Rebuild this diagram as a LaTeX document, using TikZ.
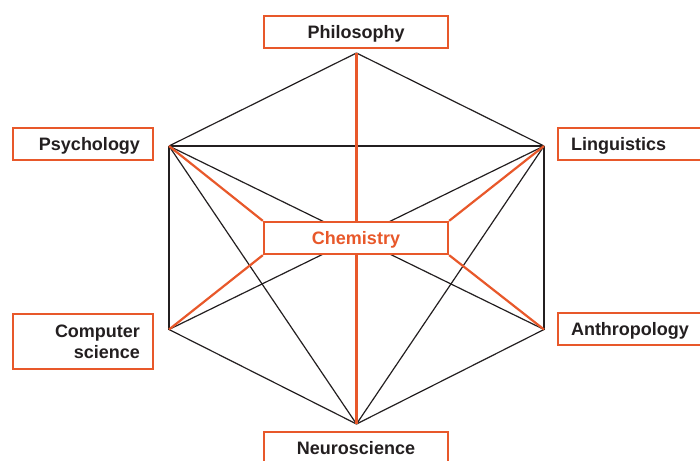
\documentclass[tikz,border=0pt]{standalone}
\usepackage{fontspec}
\setmainfont{Liberation Sans}
\usetikzlibrary{backgrounds}
\definecolor{org}{HTML}{E8582A}
\definecolor{ink}{HTML}{231F20}
\begin{document}
\begin{tikzpicture}[x=1pt,y=-1pt,
  box/.style={draw=org,line width=2.3pt,fill=white,minimum height=32pt,inner ysep=0pt,inner xsep=13pt,
    font=\bfseries\fontsize{18}{21}\selectfont,text=ink},
  one/.style={text height=13pt,text depth=0pt},
  cbox/.style={box,one,minimum width=184pt},
  lbox/.style={box,text width=114pt,align=right},
  rbox/.style={box,one,text width=124pt,align=left},
  blk/.style={draw=ink,line width=1.2pt},
  orl/.style={draw=org,line width=2.2pt}]
\useasboundingbox (0,0) rectangle (700,460);
\clip (0,0) rectangle (700,460);
% vertices
\coordinate (top) at (356.5,53);
\coordinate (bot) at (356.5,424);
\coordinate (ul) at (169,146);
\coordinate (ur) at (544,146);
\coordinate (ll) at (169,329.5);
\coordinate (lr) at (544,329.5);
% nodes
\node[cbox] (phil) at (356,32) {Philosophy};
\node[lbox,one] (psy) at (83,144) {Psychology};
\node[rbox] (ling) at (633,144) {Linguistics};
\node[lbox,minimum height=55pt] (cs) at (83,341.5) {Computer\\science};
\node[rbox] (anth) at (633,329) {Anthropology};
\node[cbox] (neuro) at (356,448) {Neuroscience};
\node[cbox,text=org] (chem) at (356,238) {Chemistry};
\begin{pgfonlayer}{background}
\draw[blk] (top) -- (ul);
\draw[blk] (top) -- (ur);
\draw[blk] (ul) -- (ur);
\draw[blk] (ul) -- (ll);
\draw[blk] (ur) -- (lr);
\draw[blk] (ul) -- (lr);
\draw[blk] (ur) -- (ll);
\draw[blk] (ul) -- (bot);
\draw[blk] (ur) -- (bot);
\draw[blk] (ll) -- (bot);
\draw[blk] (lr) -- (bot);
\draw[orl] (top) -- (bot);
\draw[orl] (chem.north west) -- (ul);
\draw[orl] (chem.north east) -- (ur);
\draw[orl] (chem.south west) -- (ll);
\draw[orl] (chem.south east) -- (lr);
\end{pgfonlayer}
\end{tikzpicture}
\end{document}
